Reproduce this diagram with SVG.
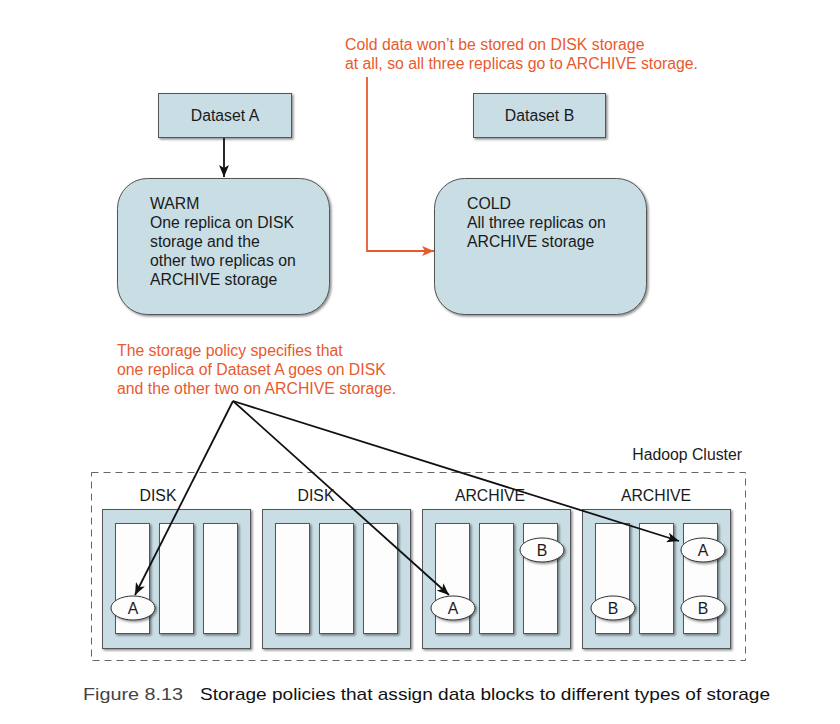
<svg xmlns="http://www.w3.org/2000/svg" width="840" height="724" viewBox="0 0 840 724">
<style>
text{font-family:"Liberation Sans",Arial,sans-serif;font-size:15.8px;fill:#1a1a1a}
.note{fill:#e85a2e}
.box{fill:#c9dde5;stroke:#555;stroke-width:1;filter:url(#sh)}
.slot{fill:#fdfdfd;stroke:#555;stroke-width:1;filter:url(#sh)}
.blk{fill:#fdfdfd;stroke:#333;stroke-width:1;filter:url(#sh)}
.c{text-anchor:middle}
.ln{fill:none;stroke:#111;stroke-width:1.8}
.or{fill:none;stroke:#e85a2e;stroke-width:1.8}
</style>
<defs>
<filter id="sh" x="-10%" y="-10%" width="130%" height="130%">
<feDropShadow dx="1.5" dy="1.5" stdDeviation="1" flood-color="#000" flood-opacity="0.45"/>
</filter>
<marker id="ab" viewBox="0 0 12 10" refX="12" refY="5" markerWidth="12" markerHeight="10" markerUnits="userSpaceOnUse" orient="auto">
<path d="M0,0 L12,5 L0,10 L3,5 Z" fill="#111"/>
</marker>
<marker id="ao" viewBox="0 0 12 10" refX="12" refY="5" markerWidth="12" markerHeight="10" markerUnits="userSpaceOnUse" orient="auto">
<path d="M0,0 L12,5 L0,10 L3,5 Z" fill="#e85a2e"/>
</marker>
</defs>

<g id="note-cold">
<text class="note" x="345" y="50">Cold data won’t be stored on DISK storage</text>
<text class="note" x="345" y="69">at all, so all three replicas go to ARCHIVE storage.</text>
</g>

<g id="dataset-a">
<rect class="box" x="158.5" y="93.5" width="133" height="44"/>
<text class="c" x="225" y="121">Dataset A</text>
</g>
<g id="dataset-b">
<rect class="box" x="473.5" y="93.5" width="132" height="44"/>
<text class="c" x="539.5" y="121">Dataset B</text>
</g>

<g id="warm">
<rect class="box" x="117.5" y="178.5" width="212" height="136" rx="30"/>
<text x="150" y="209">WARM</text>
<text x="150" y="228">One replica on DISK</text>
<text x="150" y="247">storage and the</text>
<text x="150" y="266">other two replicas on</text>
<text x="150" y="285">ARCHIVE storage</text>
</g>
<g id="cold">
<rect class="box" x="434.5" y="178.5" width="212" height="136" rx="30"/>
<text x="467" y="209">COLD</text>
<text x="467" y="228">All three replicas on</text>
<text x="467" y="247">ARCHIVE storage</text>
</g>

<g id="note-policy">
<text class="note" x="117" y="356">The storage policy specifies that</text>
<text class="note" x="117" y="375">one replica of Dataset A goes on DISK</text>
<text class="note" x="117" y="394">and the other two on ARCHIVE storage.</text>
</g>

<g id="hadoop-cluster">
<rect x="91.5" y="472.5" width="654" height="188" fill="none" stroke="#666" stroke-width="1" stroke-dasharray="7,5"/>
<text x="742" y="460" text-anchor="end">Hadoop Cluster</text>
</g>

<g id="rack-1">
<text class="c" x="158" y="501">DISK</text>
<rect class="box" x="102.5" y="509.5" width="148" height="139"/>
<rect class="slot" x="115.5" y="523.5" width="34" height="110"/>
<rect class="slot" x="159.5" y="523.5" width="34" height="110"/>
<rect class="slot" x="203.5" y="523.5" width="34" height="110"/>
<ellipse class="blk" cx="133" cy="608" rx="22" ry="12"/>
<text class="c" x="133" y="614">A</text>
</g>
<g id="rack-2">
<text class="c" x="316" y="501">DISK</text>
<rect class="box" x="262.5" y="509.5" width="148" height="139"/>
<rect class="slot" x="275.5" y="523.5" width="34" height="110"/>
<rect class="slot" x="319.5" y="523.5" width="34" height="110"/>
<rect class="slot" x="363.5" y="523.5" width="34" height="110"/>
</g>
<g id="rack-3">
<text class="c" x="490" y="501">ARCHIVE</text>
<rect class="box" x="422.5" y="509.5" width="148" height="139"/>
<rect class="slot" x="435.5" y="523.5" width="34" height="110"/>
<rect class="slot" x="479.5" y="523.5" width="34" height="110"/>
<rect class="slot" x="523.5" y="523.5" width="34" height="110"/>
<ellipse class="blk" cx="542" cy="550" rx="22" ry="12"/>
<text class="c" x="542" y="556">B</text>
<ellipse class="blk" cx="453" cy="608" rx="22" ry="12"/>
<text class="c" x="453" y="614">A</text>
</g>
<g id="rack-4">
<text class="c" x="656" y="501">ARCHIVE</text>
<rect class="box" x="582.5" y="509.5" width="148" height="139"/>
<rect class="slot" x="595.5" y="523.5" width="34" height="110"/>
<rect class="slot" x="639.5" y="523.5" width="34" height="110"/>
<rect class="slot" x="683.5" y="523.5" width="34" height="110"/>
<ellipse class="blk" cx="703" cy="550" rx="22" ry="12"/>
<text class="c" x="703" y="556">A</text>
<ellipse class="blk" cx="613" cy="608" rx="22" ry="12"/>
<text class="c" x="613" y="614">B</text>
<ellipse class="blk" cx="703" cy="608" rx="22" ry="12"/>
<text class="c" x="703" y="614">B</text>
</g>

<g id="connectors">
<line class="ln" x1="224" y1="138" x2="224" y2="177" marker-end="url(#ab)"/>
<polyline class="or" points="367,77 367,251 434,251" marker-end="url(#ao)"/>
<line class="ln" x1="233" y1="401" x2="135" y2="595" marker-end="url(#ab)"/>
<line class="ln" x1="233" y1="401" x2="449" y2="595" marker-end="url(#ab)"/>
<line class="ln" x1="233" y1="401" x2="679" y2="541" marker-end="url(#ab)"/>
</g>

<g id="caption">
<text x="83" y="700" style="font-size:17px;fill:#444" textLength="100" lengthAdjust="spacingAndGlyphs">Figure 8.13</text>
<text x="200" y="700" style="font-size:17px;fill:#111" textLength="570" lengthAdjust="spacingAndGlyphs">Storage policies that assign data blocks to different types of storage</text>
</g>
</svg>
